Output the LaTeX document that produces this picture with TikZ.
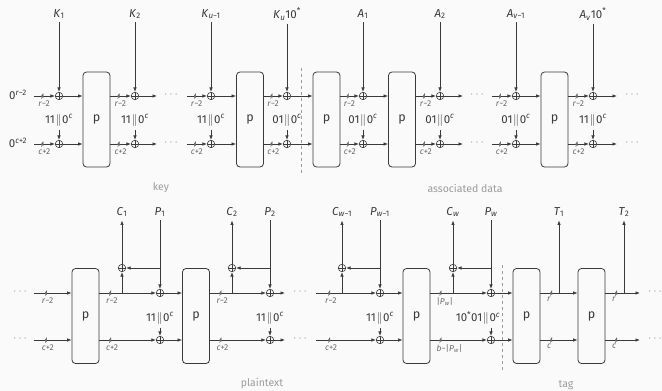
\documentclass[tikz,border=0pt]{standalone}
\usepackage{fontspec}
\setmainfont{Fira Sans}
\setsansfont{Fira Sans}
\usetikzlibrary{arrows.meta,calc}
\definecolor{ink}{HTML}{3A3A3A}
\definecolor{paper}{HTML}{FAFAFA}
\definecolor{capgray}{HTML}{9C9C9C}
\definecolor{busgray}{HTML}{6A6A6A}
\newcommand{\vsub}[2]{\textit{#1}\textsubscript{#2}}
\newcommand{\domlab}[1]{#1\kern0.6pt$\|$\kern0.6pt0\textsuperscript{\textit{c}}}
\tikzset{
  pbox/.style={draw=ink,rounded corners=3.5pt,minimum width=27pt,minimum height=95pt,inner sep=0pt,line width=0.8pt,font=\fontsize{12.5}{13}\selectfont},
  xorop/.style={circle,draw=ink,minimum size=7.5pt,inner sep=0pt,line width=0.6pt,
    path picture={\draw[ink,line width=0.6pt] (path picture bounding box.north) -- (path picture bounding box.south)
      (path picture bounding box.west) -- (path picture bounding box.east);}},
  wire/.style={ink,line width=0.7pt},
  wirearr/.style={wire,-{Latex[length=4.5pt,width=3.5pt]}},
  bus/.style={inner sep=0pt,minimum width=1.8pt,minimum height=6pt,
    path picture={\draw[busgray,line width=0.45pt] (path picture bounding box.south west) -- (path picture bounding box.north east);},
    label={[buslab,anchor=north west,xshift=-5pt]south:#1}},
  buslab/.style={font=\fontsize{8.5}{9}\selectfont,text=busgray,inner sep=0.6pt},
  dotlab/.style={text=capgray},
  caplab/.style={text=capgray,font=\fontsize{10.5}{12}\selectfont},
  sepline/.style={capgray,dashed,line width=0.7pt}
}
\begin{document}
\begin{tikzpicture}[x=1pt,y=-1pt,font=\fontsize{11.5}{13}\selectfont,text=ink]
  \fill[paper] (0,0) rectangle (662,391);
  \useasboundingbox (0,0) rectangle (662,391);
  % key + associated data
  \node (zr) at (18,95) {0\textsuperscript{\textit{r}−2}};
  \node (zc) at (18,143) {0\textsuperscript{\textit{c}+2}};
  \coordinate (sr1) at (34,96);  \coordinate (sc1) at (34,144);
  \coordinate (er1) at (157,96); \coordinate (ec1) at (157,144);
  \coordinate (sr2) at (187,96); \coordinate (sc2) at (187,144);
  \coordinate (er2) at (463,96); \coordinate (ec2) at (463,144);
  \coordinate (sr3) at (492,96); \coordinate (sc3) at (492,144);
  \coordinate (er3) at (617,96); \coordinate (ec3) at (617,144);
  \node[dotlab] (dr1) at (171,95) {$\cdots$};
  \node[dotlab] (dc1) at (171,143) {$\cdots$};
  \node[dotlab] (dr2) at (477,95) {$\cdots$};
  \node[dotlab] (dc2) at (477,143) {$\cdots$};
  \node[dotlab] (dr3) at (632,95) {$\cdots$};
  \node[dotlab] (dc3) at (632,143) {$\cdots$};

  \node (k1) at (59,14) {\vsub{K}{1}};
  \node (k2) at (135,14) {\vsub{K}{2}};
  \node (ku1) at (211,14) {\vsub{K}{\textit{u}−1}};
  \node (ku) at (287,14) {\vsub{K}{\textit{u}}10\textsuperscript{*}};
  \node (a1) at (363,14) {\vsub{A}{1}};
  \node (a2) at (440,14) {\vsub{A}{2}};
  \node (av1) at (516,14) {\vsub{A}{\textit{v}−1}};
  \node (av) at (593,14) {\vsub{A}{\textit{v}}10\textsuperscript{*}};

  \node (d1) at (59,120) {\domlab{11}};
  \node (d2) at (135,120) {\domlab{11}};
  \node (d3) at (211,120) {\domlab{11}};
  \node (d4) at (287,120) {\domlab{01}};
  \node (d5) at (363,120) {\domlab{01}};
  \node (d6) at (440,120) {\domlab{01}};
  \node (d7) at (516,120) {\domlab{01}};
  \node (d8) at (593,120) {\domlab{11}};

  \node[xorop] (xr1) at (59,96) {};  \node[xorop] (xc1) at (59,144) {};
  \node[xorop] (xr2) at (135,96) {}; \node[xorop] (xc2) at (135,144) {};
  \node[xorop] (xr3) at (211,96) {}; \node[xorop] (xc3) at (211,144) {};
  \node[xorop] (xr4) at (287,96) {}; \node[xorop] (xc4) at (287,144) {};
  \node[xorop] (xr5) at (363,96) {}; \node[xorop] (xc5) at (363,144) {};
  \node[xorop] (xr6) at (440,96) {}; \node[xorop] (xc6) at (440,144) {};
  \node[xorop] (xr7) at (516,96) {}; \node[xorop] (xc7) at (516,144) {};
  \node[xorop] (xr8) at (593,96) {}; \node[xorop] (xc8) at (593,144) {};

  \node[pbox] (pa1) at (96.5,119.5) {p};
  \node[pbox] (pa2) at (250,119.5) {p};
  \node[pbox] (pa3) at (326.5,119.5) {p};
  \node[pbox] (pa4) at (402,119.5) {p};
  \node[pbox] (pa5) at (554.5,119.5) {p};

  \draw[wirearr] (k1) -- (xr1);   \draw[wirearr] (d1) -- (xc1);
  \draw[wirearr] (k2) -- (xr2);   \draw[wirearr] (d2) -- (xc2);
  \draw[wirearr] (ku1) -- (xr3);  \draw[wirearr] (d3) -- (xc3);
  \draw[wirearr] (ku) -- (xr4);   \draw[wirearr] (d4) -- (xc4);
  \draw[wirearr] (a1) -- (xr5);   \draw[wirearr] (d5) -- (xc5);
  \draw[wirearr] (a2) -- (xr6);   \draw[wirearr] (d6) -- (xc6);
  \draw[wirearr] (av1) -- (xr7);  \draw[wirearr] (d7) -- (xc7);
  \draw[wirearr] (av) -- (xr8);   \draw[wirearr] (d8) -- (xc8);

  \draw[wirearr] (sr1) -- node[bus=\textit{r}−2,pos=.4]{} (xr1);
  \draw[wirearr] (sc1) -- node[bus=\textit{c}+2,pos=.4]{} (xc1);
  \draw[wirearr] (xr1) -- (xr1 -| pa1.west);
  \draw[wirearr] (xc1) -- (xc1 -| pa1.west);
  \draw[wirearr] (pa1.east |- xr2) -- node[bus=\textit{r}−2,pos=.4]{} (xr2);
  \draw[wirearr] (pa1.east |- xc2) -- node[bus=\textit{c}+2,pos=.4]{} (xc2);
  \draw[wirearr] (xr2) -- (er1);
  \draw[wirearr] (xc2) -- (ec1);
  \draw[wirearr] (sr2) -- node[bus=\textit{r}−2,pos=.4]{} (xr3);
  \draw[wirearr] (sc2) -- node[bus=\textit{c}+2,pos=.4]{} (xc3);
  \draw[wirearr] (xr3) -- (xr3 -| pa2.west);
  \draw[wirearr] (xc3) -- (xc3 -| pa2.west);
  \draw[wirearr] (pa2.east |- xr4) -- node[bus=\textit{r}−2,pos=.4]{} (xr4);
  \draw[wirearr] (pa2.east |- xc4) -- node[bus=\textit{c}+2,pos=.4]{} (xc4);
  \draw[wirearr] (xr4) -- (xr4 -| pa3.west);
  \draw[wirearr] (xc4) -- (xc4 -| pa3.west);
  \draw[wirearr] (pa3.east |- xr5) -- node[bus=\textit{r}−2,pos=.4]{} (xr5);
  \draw[wirearr] (pa3.east |- xc5) -- node[bus=\textit{c}+2,pos=.4]{} (xc5);
  \draw[wirearr] (xr5) -- (xr5 -| pa4.west);
  \draw[wirearr] (xc5) -- (xc5 -| pa4.west);
  \draw[wirearr] (pa4.east |- xr6) -- node[bus=\textit{r}−2,pos=.4]{} (xr6);
  \draw[wirearr] (pa4.east |- xc6) -- node[bus=\textit{c}+2,pos=.4]{} (xc6);
  \draw[wirearr] (xr6) -- (er2);
  \draw[wirearr] (xc6) -- (ec2);
  \draw[wirearr] (sr3) -- node[bus=\textit{r}−2,pos=.4]{} (xr7);
  \draw[wirearr] (sc3) -- node[bus=\textit{c}+2,pos=.4]{} (xc7);
  \draw[wirearr] (xr7) -- (xr7 -| pa5.west);
  \draw[wirearr] (xc7) -- (xc7 -| pa5.west);
  \draw[wirearr] (pa5.east |- xr8) -- node[bus=\textit{r}−2,pos=.4]{} (xr8);
  \draw[wirearr] (pa5.east |- xc8) -- node[bus=\textit{c}+2,pos=.4]{} (xc8);
  \draw[wirearr] (xr8) -- (er3);
  \draw[wirearr] (xc8) -- (ec3);

  \draw[sepline] (301,68) -- (301,173);
  \node[caplab] (capkey) at (161,188) {key};
  \node[caplab] (capad) at (465,188) {associated data};

  % plaintext + tag
  \coordinate (su1) at (34,293);  \coordinate (sl1) at (34,340);
  \coordinate (eu1) at (285,293); \coordinate (el1) at (285,340);
  \coordinate (su2) at (316,293); \coordinate (sl2) at (316,340);
  \coordinate (eu2) at (640,293); \coordinate (el2) at (640,340);
  \node[dotlab] (du0) at (20,292) {$\cdots$};
  \node[dotlab] (dl0) at (20,339) {$\cdots$};
  \node[dotlab] (du1) at (300,292) {$\cdots$};
  \node[dotlab] (dl1) at (300,339) {$\cdots$};
  \node[dotlab] (du2) at (655,292) {$\cdots$};
  \node[dotlab] (dl2) at (655,339) {$\cdots$};

  \node (c1) at (122,212) {\vsub{C}{1}};
  \node (pp1) at (160,212) {\vsub{P}{1}};
  \node (c2) at (232,212) {\vsub{C}{2}};
  \node (pp2) at (270,212) {\vsub{P}{2}};
  \node (cw1) at (342,212) {\vsub{C}{\textit{w}−1}};
  \node (pw1) at (380,212) {\vsub{P}{\textit{w}−1}};
  \node (cw) at (453,212) {\vsub{C}{\textit{w}}};
  \node (pw) at (491,212) {\vsub{P}{\textit{w}}};
  \node (t1) at (559,212) {\vsub{T}{1}};
  \node (t2) at (624,212) {\vsub{T}{2}};

  \node (e1) at (160,318) {\domlab{11}};
  \node (e2) at (270,318) {\domlab{11}};
  \node (e3) at (380,318) {\domlab{11}};
  \node (e4) at (478,318) {10\textsuperscript{*}\domlab{01}};

  \node[xorop] (xo1) at (122,268) {};
  \node[xorop] (xo2) at (232,268) {};
  \node[xorop] (xo3) at (342,268) {};
  \node[xorop] (xo4) at (453,268) {};
  \node[xorop] (xp1) at (160,293) {}; \node[xorop] (xq1) at (160,340) {};
  \node[xorop] (xp2) at (270,293) {}; \node[xorop] (xq2) at (270,340) {};
  \node[xorop] (xp3) at (380,293) {}; \node[xorop] (xq3) at (380,340) {};
  \node[xorop] (xp4) at (491,293) {}; \node[xorop] (xq4) at (491,340) {};

  \node[pbox] (pb1) at (85.5,316) {p};
  \node[pbox] (pb2) at (196,316) {p};
  \node[pbox] (pb3) at (416.5,316) {p};
  \node[pbox] (pb4) at (526.5,316) {p};
  \node[pbox] (pb5) at (591.5,316) {p};

  \draw[wirearr] (su1) -- node[bus=\textit{r}−2,pos=.32]{} (su1 -| pb1.west);
  \draw[wirearr] (sl1) -- node[bus=\textit{c}+2,pos=.32]{} (sl1 -| pb1.west);
  \draw[wirearr] (pb1.east |- xp1) -- node[bus=\textit{r}−2,pos=.19]{} (xp1);
  \draw[wirearr] (pb1.east |- xq1) -- node[bus=\textit{c}+2,pos=.19]{} (xq1);
  \draw[wirearr] (xo1 |- xp1) -- (xo1);
  \draw[wirearr] (xo1) -- (c1);
  \draw[wirearr] (pp1) -- (xp1);
  \draw[wirearr] (xp1 |- xo1) -- (xo1);
  \draw[wirearr] (e1) -- (xq1);
  \draw[wirearr] (xp1) -- (xp1 -| pb2.west);
  \draw[wirearr] (xq1) -- (xq1 -| pb2.west);

  \draw[wirearr] (pb2.east |- xp2) -- node[bus=\textit{r}−2,pos=.19]{} (xp2);
  \draw[wirearr] (pb2.east |- xq2) -- node[bus=\textit{c}+2,pos=.19]{} (xq2);
  \draw[wirearr] (xo2 |- xp2) -- (xo2);
  \draw[wirearr] (xo2) -- (c2);
  \draw[wirearr] (pp2) -- (xp2);
  \draw[wirearr] (xp2 |- xo2) -- (xo2);
  \draw[wirearr] (e2) -- (xq2);
  \draw[wirearr] (xp2) -- (eu1);
  \draw[wirearr] (xq2) -- (el1);

  \draw[wirearr] (su2) -- node[bus=\textit{r}−2,pos=.22]{} (xp3);
  \draw[wirearr] (sl2) -- node[bus=\textit{c}+2,pos=.22]{} (xq3);
  \draw[wirearr] (xo3 |- xp3) -- (xo3);
  \draw[wirearr] (xo3) -- (cw1);
  \draw[wirearr] (pw1) -- (xp3);
  \draw[wirearr] (xp3 |- xo3) -- (xo3);
  \draw[wirearr] (e3) -- (xq3);
  \draw[wirearr] (xp3) -- (xp3 -| pb3.west);
  \draw[wirearr] (xq3) -- (xq3 -| pb3.west);

  \draw[wirearr] (pb3.east |- xp4) -- node[bus={|\vsub{P}{\textit{w}}|},pos=.18]{} (xp4);
  \draw[wirearr] (pb3.east |- xq4) -- node[bus={\textit{b}−|\vsub{P}{\textit{w}}|},pos=.18]{} (xq4);
  \draw[wirearr] (xo4 |- xp4) -- (xo4);
  \draw[wirearr] (xo4) -- (cw);
  \draw[wirearr] (pw) -- (xp4);
  \draw[wirearr] (xp4 |- xo4) -- (xo4);
  \draw[wirearr] (e4.south -| xq4) -- (xq4);
  \draw[wirearr] (xp4) -- (xp4 -| pb4.west);
  \draw[wirearr] (xq4) -- (xq4 -| pb4.west);

  \draw[wirearr] (pb4.east |- xp4) -- node[bus=\textit{r},pos=.29]{} (xp4 -| pb5.west);
  \draw[wirearr] (pb4.east |- xq4) -- node[bus=\textit{c},pos=.29]{} (xq4 -| pb5.west);
  \draw[wirearr] (t1 |- xp4) -- (t1);
  \draw[wirearr] (pb5.east |- eu2) -- node[bus=\textit{r},pos=.31]{} (eu2);
  \draw[wirearr] (pb5.east |- el2) -- node[bus=\textit{c},pos=.31]{} (el2);
  \draw[wirearr] (t2 |- eu2) -- (t2);

  \draw[sepline] (502,265) -- (502,370);
  \node[caplab] (cappt) at (262,384) {plaintext};
  \node[caplab] (captag) at (566,385) {tag};
\end{tikzpicture}
\end{document}
